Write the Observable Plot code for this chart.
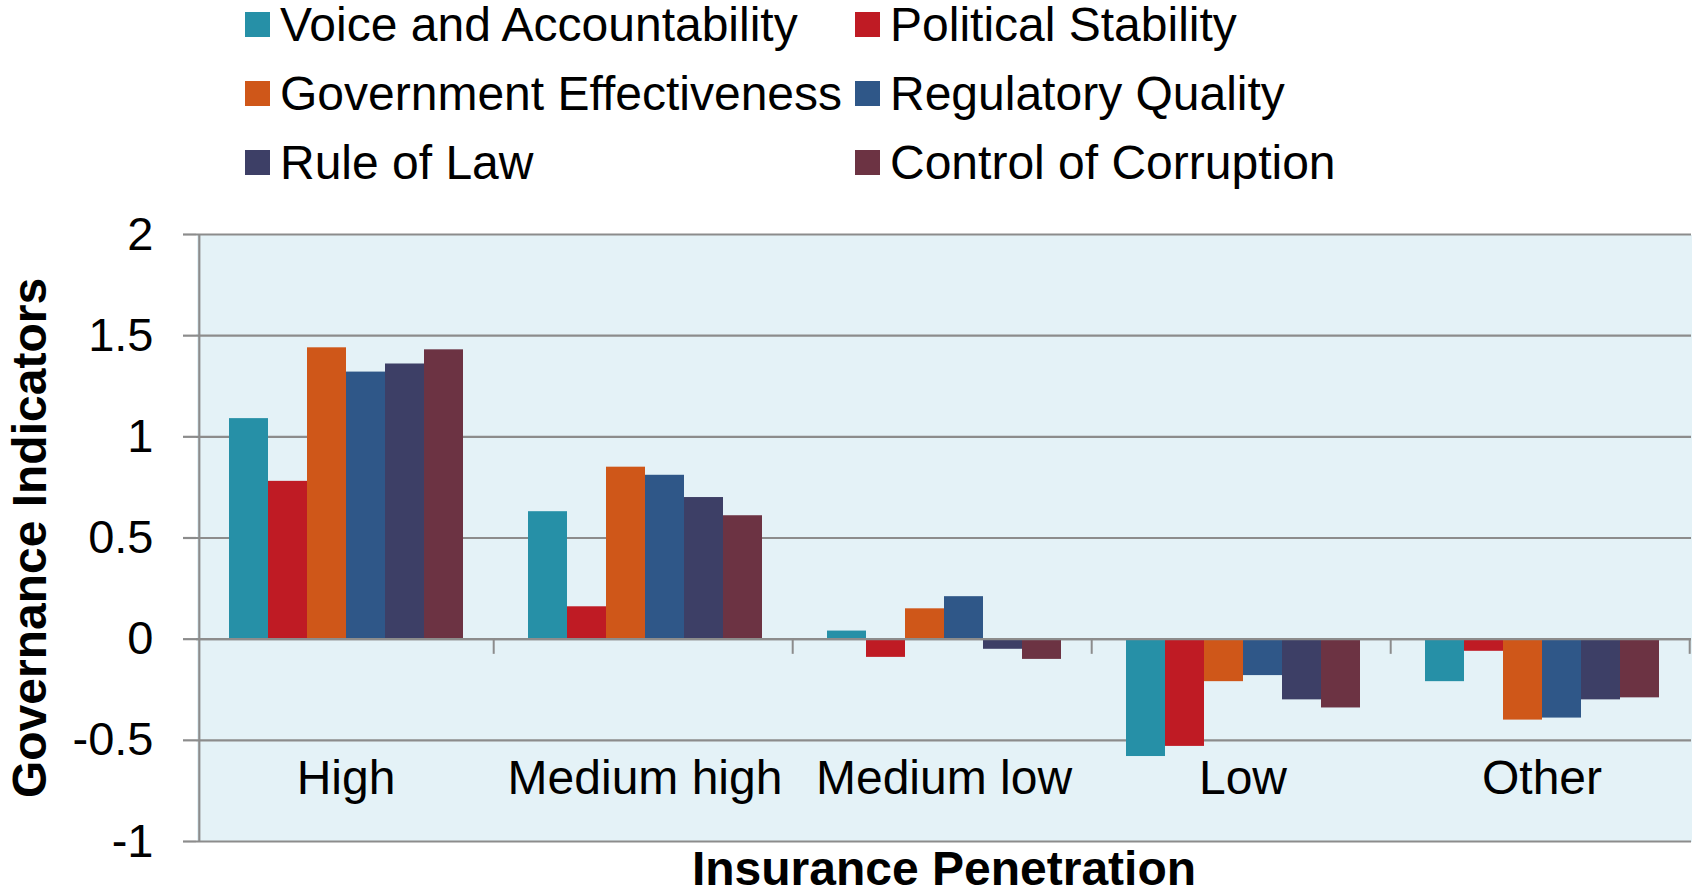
<!DOCTYPE html>
<html>
<head>
<meta charset="utf-8">
<script src="https://cdn.jsdelivr.net/npm/d3@7"></script>
<script src="https://cdn.jsdelivr.net/npm/@observablehq/plot@0.6"></script>
<style>
  html, body { margin: 0; padding: 0; background: #fff; }
  body { font-family: "Liberation Sans", Arial, sans-serif; width: 1693px; height: 894px; overflow: hidden; }
  #legend { height: 190px; position: relative; display: flow-root; }
  #legend .grid { display: grid; grid-template-columns: 610px auto; margin-left: 245px; position: relative; top: -10px; }
  #legend .item { display: flex; align-items: center; height: 69px; line-height: 69px; font-size: 48px; color: #000; white-space: nowrap; }
  #legend .sw { width: 25px; height: 25px; margin-right: 10px; flex: none; }
  #chart svg { display: block; }
</style>
</head>
<body>
<div id="legend"><div class="grid"></div></div>
<div id="chart"></div>
<script>
// ---- data ----
const groups = ["High", "Medium high", "Medium low", "Low", "Other"];
const series = ["Voice and Accountability", "Political Stability", "Government Effectiveness", "Regulatory Quality", "Rule of Law", "Control of Corruption"];
const colors = ["#2690A7", "#BF1B24", "#CF5719", "#2F5788", "#3D3F66", "#6C3343"];
const voiceAccountability     = [1.09, 0.63, 0.04, -0.58, -0.21];
const politicalStability      = [0.78, 0.16, -0.09, -0.53, -0.06];
const governmentEffectiveness = [1.44, 0.85, 0.15, -0.21, -0.40];
const regulatoryQuality       = [1.32, 0.81, 0.21, -0.18, -0.39];
const ruleOfLaw               = [1.36, 0.70, -0.05, -0.30, -0.30];
const controlOfCorruption     = [1.43, 0.61, -0.10, -0.34, -0.29];
const yTicks = [-1, -0.5, 0, 0.5, 1, 1.5, 2];
const xTitle = "Insurance Penetration";
const yTitle = "Governance Indicators";

const seriesValues = [voiceAccountability, politicalStability, governmentEffectiveness, regulatoryQuality, ruleOfLaw, controlOfCorruption];
const table = [];
groups.forEach((g, gi) => series.forEach((s, si) => table.push({group: g, series: s, value: seriesValues[si][gi]})));

// ---- legend (HTML, 2 columns) ----
const grid = document.querySelector("#legend .grid");
series.forEach((s, i) => {
  const it = document.createElement("div");
  it.className = "item";
  const sw = document.createElement("span");
  sw.className = "sw";
  sw.style.background = colors[i];
  it.appendChild(sw);
  it.appendChild(document.createTextNode(s));
  grid.appendChild(it);
});

// ---- layout ----
const W = 1693, H = 704, mL = 194, mR = 0, mT = 44, mB = 53;
const facetW = (W - mL - mR) / groups.length;
const outerPad = 0.74;
const step = facetW / (series.length + 2 * outerPad);
const edge = step * (0.5 + outerPad);
const gray = "#8C8C8C";

const chart = Plot.plot({
  width: W, height: H,
  marginLeft: mL, marginRight: mR, marginTop: mT, marginBottom: mB,
  style: {fontFamily: '"Liberation Sans", Arial, sans-serif', background: "white", color: "black", overflow: "visible"},
  fx: {domain: groups, padding: 0, axis: null},
  x: {domain: series, paddingInner: 0, paddingOuter: outerPad, axis: null},
  y: {domain: [-1, 2]},
  color: {domain: series, range: colors},
  marks: [
    Plot.frame({fill: "#E4F2F7", stroke: null, shapeRendering: "crispEdges"}),
    Plot.gridY(yTicks, {stroke: gray, strokeOpacity: 1, strokeWidth: 2.2}),
    Plot.axisY(yTicks, {tickFormat: d => String(d), tickSize: 13, tickPadding: 30, fontSize: 47, stroke: gray, strokeWidth: 2.2, fill: "black", label: null}),
    Plot.barY(table, {fx: "group", x: "series", y: "value", fill: "series"}),
    Plot.ruleY([0], {stroke: gray, strokeWidth: 2.2}),
    Plot.ruleX([groups[0]], {fx: d => d, x: () => series[0], dx: -edge, y1: yTicks[0], y2: yTicks[yTicks.length - 1], stroke: gray, strokeWidth: 2.2}),
    Plot.ruleX(groups, {fx: d => d, x: () => series[series.length - 1], dx: edge, y1: 0, y2: -0.075, stroke: gray, strokeWidth: 2}),
    Plot.text(groups, {fx: d => d, text: d => d, frameAnchor: "bottom", lineAnchor: "bottom", dy: -48, fontSize: 48, fill: "black"}),
    Plot.text([xTitle], {fx: () => groups[2], text: d => d, frameAnchor: "bottom", lineAnchor: "bottom", dy: 43, fontSize: 48, fontWeight: "bold", fill: "black"}),
    Plot.text([yTitle], {fx: () => groups[0], text: d => d, frameAnchor: "left", rotate: -90, lineAnchor: "bottom", textAnchor: "middle", dx: -151, dy: 0, fontSize: 48, fontWeight: "bold", fill: "black"})
  ]
});
document.getElementById("chart").appendChild(chart);
</script>
</body>
</html>
